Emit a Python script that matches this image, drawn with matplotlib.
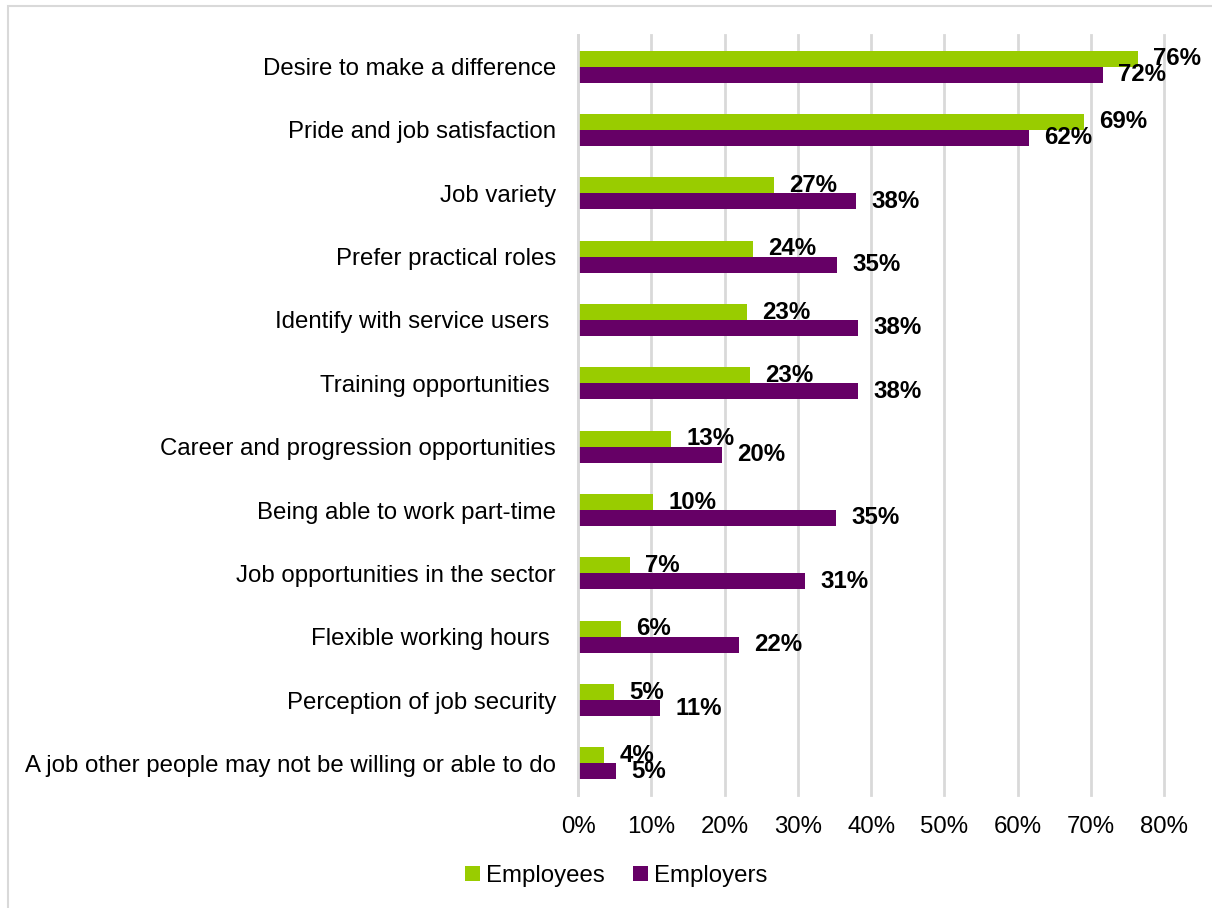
import matplotlib.pyplot as plt
from matplotlib.patches import Rectangle
import numpy as np

plt.rcParams['font.family'] = ['Liberation Sans', 'DejaVu Sans']

categories = [
    "Desire to make a difference",
    "Pride and job satisfaction",
    "Job variety",
    "Prefer practical roles",
    "Identify with service users ",
    "Training opportunities ",
    "Career and progression opportunities",
    "Being able to work part-time",
    "Job opportunities in the sector",
    "Flexible working hours ",
    "Perception of job security",
    "A job other people may not be willing or able to do",
]
employees = [76.4, 69.0, 26.7, 23.9, 23.0, 23.4, 12.7, 10.2, 7.1, 5.8, 4.9, 3.6]
employers = [71.6, 61.6, 38.0, 35.3, 38.2, 38.2, 19.6, 35.2, 31.0, 22.0, 11.2, 5.2]
ticks = [0, 10, 20, 30, 40, 50, 60, 70, 80]

green = '#99cc00'
purple = '#660066'
fs = 17.3

fig = plt.figure(figsize=(12.12, 9.08), dpi=100)
ax = fig.add_axes([0.477, 0.1244, 0.4835, 0.8371])

# outer frame of the original chart box
fig.patches.append(Rectangle((8/1212, -0.05), 1.1, 1 - 6/908 + 0.05,
                             transform=fig.transFigure, fill=False,
                             edgecolor='#d9d9d9', linewidth=1.5))

y = np.arange(len(categories))
h = 0.252
b1 = ax.barh(y - h/2, employees, height=h, color=green, label='Employees')
b2 = ax.barh(y + h/2, employers, height=h, color=purple, label='Employers')

for bars, vals in [(b1, employees), (b2, employers)]:
    for bar, v in zip(bars, vals):
        ax.annotate(f"{round(v)}%", (v, bar.get_y() + bar.get_height()/2),
                    xytext=(11, 0), textcoords='offset points',
                    ha='left', va='center', fontsize=fs, fontweight='bold',
                    color='black', annotation_clip=False)

ax.set_xlim(0, 80)
ax.set_ylim(len(categories) - 0.5, -0.5)
ax.set_xticks(ticks)
ax.set_xticklabels([f"{t}%" for t in ticks], fontsize=fs)
ax.set_yticks(y)
ax.set_yticklabels(categories, fontsize=fs)
ax.tick_params(axis='both', length=0)
ax.tick_params(axis='y', pad=16)
ax.tick_params(axis='x', pad=15)

ax.grid(axis='x', color='#d9d9d9', linewidth=2)
for gl in ax.get_xgridlines():
    gl.set_clip_on(False)
ax.set_axisbelow(True)
for s in ['top', 'right', 'bottom']:
    ax.spines[s].set_visible(False)
ax.spines['left'].set_color('#d9d9d9')
ax.spines['left'].set_linewidth(2)

fig.legend(handles=[b1, b2], loc='center', bbox_to_anchor=(616/1212, 1 - 876/908),
           ncol=2, frameon=False, fontsize=fs, handlelength=0.6,
           handleheight=0.6, handletextpad=0.25, columnspacing=1.2)

fig.savefig('out.png', dpi=100)
